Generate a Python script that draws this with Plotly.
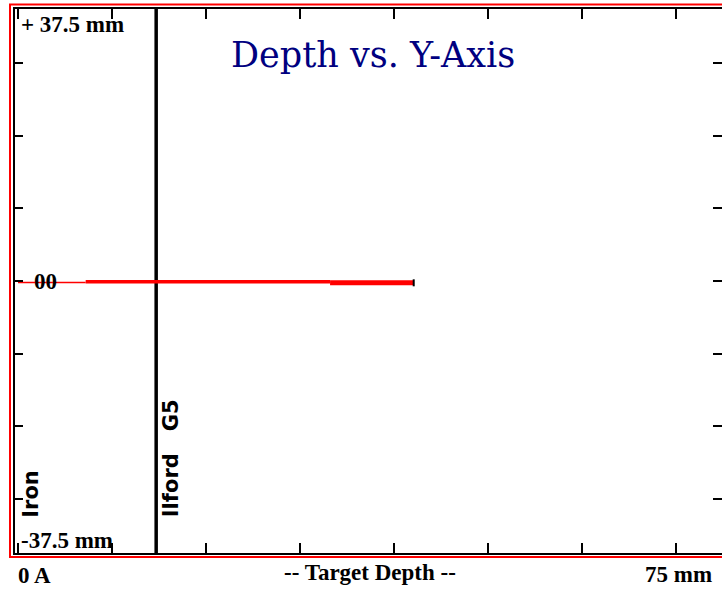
import plotly.graph_objects as go

# ---- data (mm) ----
x_ticks_mm = [0, 10, 20, 30, 40, 50, 60, 70]
y_ticks_mm = [-30, -20, -10, 0, 10, 20, 30]
x_range_mm = [-0.32, 74.9]
y_range_mm = [-37.5, 37.5]

materials = ["Iron", "Ilford\u00a0\u00a0 G5"]
material_label_depth_mm = [1.44, 16.3]
material_label_y_mm = [-29.4, -24.4]
boundaries_mm = [14.7]

# particle track: segment edges along depth and lateral (Y) position of each segment
track_depth_mm = [0.0, 7.2, 33.2, 42.1]
track_y_mm = [-0.2, -0.1, -0.25]

title_text = "Depth vs. Y-Axis"
y_top_label = "+ 37.5 mm"
y_bottom_label = "-37.5 mm"
y_zero_label = "00"
x_left_label = "0 A"
x_mid_label = "-- Target Depth --"
x_right_label = "75 mm"

# ---- styles ----
track_widths = [1.5, 3.5, 5]

fig = go.Figure()

# material boundaries
for b in boundaries_mm:
    fig.add_trace(go.Scatter(x=[b, b], y=y_range_mm, mode="lines",
                             line=dict(color="black", width=3.5),
                             hoverinfo="skip", showlegend=False))

# track segments
for i in range(len(track_y_mm)):
    fig.add_trace(go.Scatter(x=[track_depth_mm[i], track_depth_mm[i + 1]],
                             y=[track_y_mm[i], track_y_mm[i]], mode="lines",
                             line=dict(color="#ff0000", width=track_widths[i]),
                             hoverinfo="skip", showlegend=False))

# track end mark
fig.add_trace(go.Scatter(x=[track_depth_mm[-1]], y=[track_y_mm[-1]], mode="markers",
                         marker=dict(symbol="line-ns", size=5, line=dict(color="black", width=2)),
                         hoverinfo="skip", showlegend=False))

# invisible trace for right-side ticks
fig.add_trace(go.Scatter(x=[x_range_mm[0]], y=[0], yaxis="y2", mode="markers",
                         marker=dict(opacity=0), hoverinfo="skip", showlegend=False))

W, H = 722, 590
ml, mr, mt, mb = 15, 0, 9, 37
pw, ph = W - ml - mr, H - mt - mb

serif = dict(family="Liberation Serif", size=23, color="black")
ann = []
ann.append(dict(x=0.15, y=35.3, text="<b>%s</b>" % y_top_label, xanchor="left", yanchor="middle", font=serif))
ann.append(dict(x=0.15, y=-35.8, text="<b>%s</b>" % y_bottom_label, xanchor="left", yanchor="middle", font=serif))
ann.append(dict(x=1.5, y=0.0, text="<b>%s</b>" % y_zero_label, xanchor="left", yanchor="middle", font=serif))
ann.append(dict(x=37.8, y=31.2, text=title_text, xanchor="center", yanchor="middle",
                font=dict(family="DejaVu Serif", size=35, color="#000080")))
for m, xm, ym in zip(materials, material_label_depth_mm, material_label_y_mm):
    ann.append(dict(x=xm, y=ym, text="<b>%s</b>" % m, textangle=-90, xanchor="center", yanchor="middle",
                    font=dict(family="DejaVu Sans", size=21, color="black")))
for a in ann:
    a["xref"] = "x"
    a["yref"] = "y"

# labels below the plot area (paper coordinates)
yb = -(575 - (H - mb)) / ph
ann.append(dict(x=(16 - ml) / pw, y=yb, xref="paper", yref="paper", text="<b>%s</b>" % x_left_label,
                xanchor="left", yanchor="middle", font=serif))
ann.append(dict(x=(370 - ml) / pw, y=yb + 3 / ph, xref="paper", yref="paper", text="<b>%s</b>" % x_mid_label,
                xanchor="center", yanchor="middle", font=serif))
ann.append(dict(x=(714 - ml) / pw, y=yb + 1 / ph, xref="paper", yref="paper", text="<b>%s</b>" % x_right_label,
                xanchor="right", yanchor="middle", font=serif))
for a in ann:
    a["showarrow"] = False

fig.update_layout(
    width=W, height=H,
    margin=dict(l=ml, r=mr, t=mt, b=mb, pad=0),
    paper_bgcolor="white", plot_bgcolor="white",
    showlegend=False,
    xaxis=dict(range=x_range_mm, showgrid=False, zeroline=False, showline=True,
               linecolor="black", linewidth=2, mirror="ticks", ticks="inside",
               ticklen=10, tickwidth=2, tickcolor="black", tickvals=x_ticks_mm,
               showticklabels=False, fixedrange=True),
    yaxis=dict(range=y_range_mm, showgrid=False, zeroline=False, showline=True,
               linecolor="black", linewidth=2, ticks="inside", ticklen=8, tickwidth=2,
               tickcolor="black", tickvals=y_ticks_mm, showticklabels=False, fixedrange=True),
    yaxis2=dict(range=y_range_mm, overlaying="y", side="right", showgrid=False,
                zeroline=False, showline=False, ticks="inside", ticklen=9, tickwidth=2,
                tickcolor="black", tickvals=y_ticks_mm, showticklabels=False, fixedrange=True),
    annotations=ann,
    shapes=[dict(type="rect", xref="paper", yref="paper",
                 x0=(10 - ml) / pw, x1=1.05,
                 y0=-(557 - (H - mb)) / ph, y1=1 + (mt - 4.5) / ph,
                 line=dict(color="#ff0000", width=2), fillcolor="rgba(0,0,0,0)")],
)

fig.write_html("out.html", config={"displayModeBar": False},
               post_script="document.body.style.margin='0';document.body.style.padding='0';document.body.style.overflow='hidden';")
